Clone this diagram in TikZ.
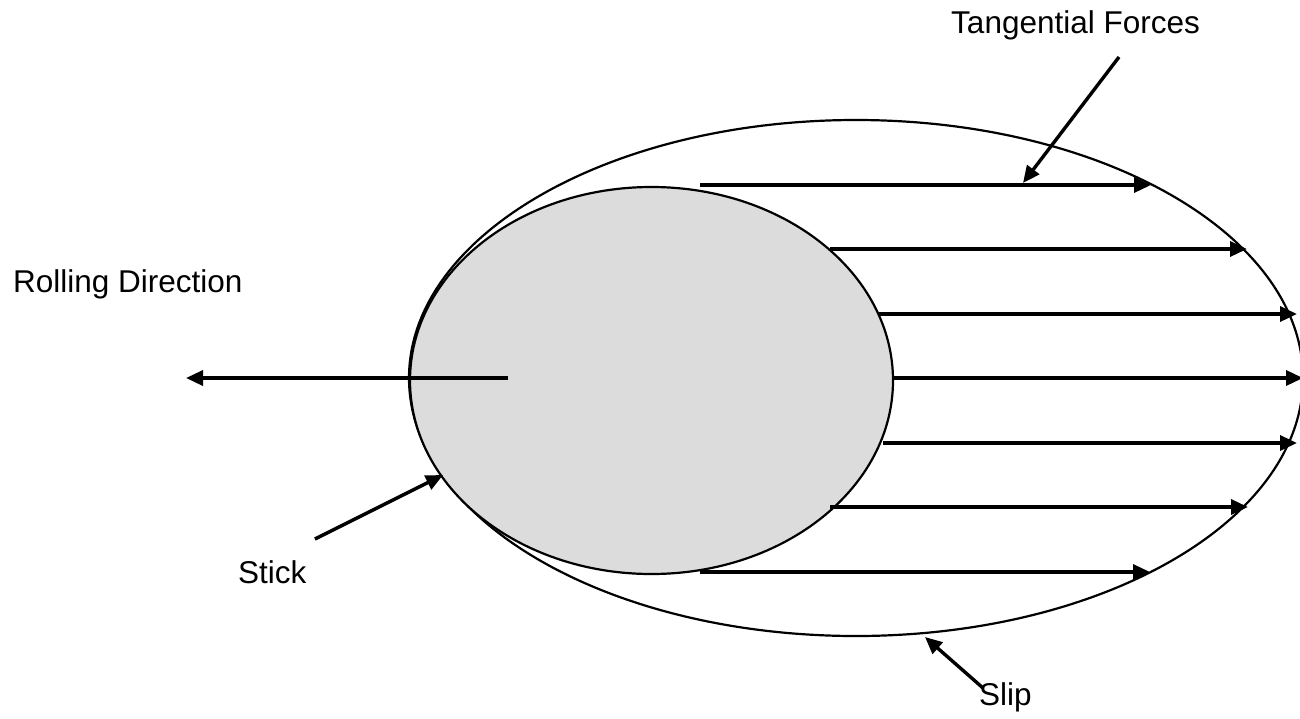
\documentclass[tikz,border=0pt]{standalone}
\usepackage{fontspec}
\setmainfont{Liberation Sans}
\usetikzlibrary{arrows.meta}
\definecolor{stickgray}{HTML}{DCDCDC}
\tikzset{
  outline/.style={draw=black, line width=2.2pt},
  force/.style={draw=black, line width=3.4pt, -{Triangle[length=17pt,width=15pt]}},
  label/.style={anchor=base west, inner sep=0pt, font=\fontsize{31.5}{38}\selectfont}
}
\begin{document}
\begin{tikzpicture}[x=1pt,y=-1pt]
\useasboundingbox (0,0) rectangle (1300,718);
% contact ellipses
\draw[outline] (856,378) ellipse [x radius=447pt, y radius=258pt];
\draw[outline, fill=stickgray] (651.5,380.5) ellipse [x radius=241.5pt, y radius=193.5pt];
% tangential force arrows
\coordinate (f1s) at (700,185); \coordinate (f1e) at (1151,185);
\coordinate (f2s) at (830,249); \coordinate (f2e) at (1247,249);
\coordinate (f3s) at (878,314); \coordinate (f3e) at (1297,314);
\coordinate (f4s) at (893,378); \coordinate (f4e) at (1303,378);
\coordinate (f5s) at (883,443); \coordinate (f5e) at (1297,443);
\coordinate (f6s) at (830,507); \coordinate (f6e) at (1248,507);
\coordinate (f7s) at (700,572); \coordinate (f7e) at (1150,572);
\foreach \i in {1,...,7} { \draw[force] (f\i s) -- (f\i e); }
% labels
\node[label] (tf) at (951,33) {Tangential Forces};
\node[label] (rd) at (13,292) {Rolling Direction};
\node[label] (st) at (238,583) {Stick};
\node[label] (sl) at (979,705) {Slip};
% pointer arrows
\coordinate (tfs) at (1119,57); \coordinate (tft) at (1023,183);
\draw[force] (tfs) -- (tft);
\coordinate (rds) at (508,378); \coordinate (rdt) at (186,378);
\draw[force] (rds) -- (rdt);
\coordinate (sts) at (315,539); \coordinate (stt) at (443,475);
\draw[force] (sts) -- (stt);
\coordinate (sls) at (983,688); \coordinate (slt) at (925,637);
\draw[force] (sls) -- (slt);
\end{tikzpicture}
\end{document}
